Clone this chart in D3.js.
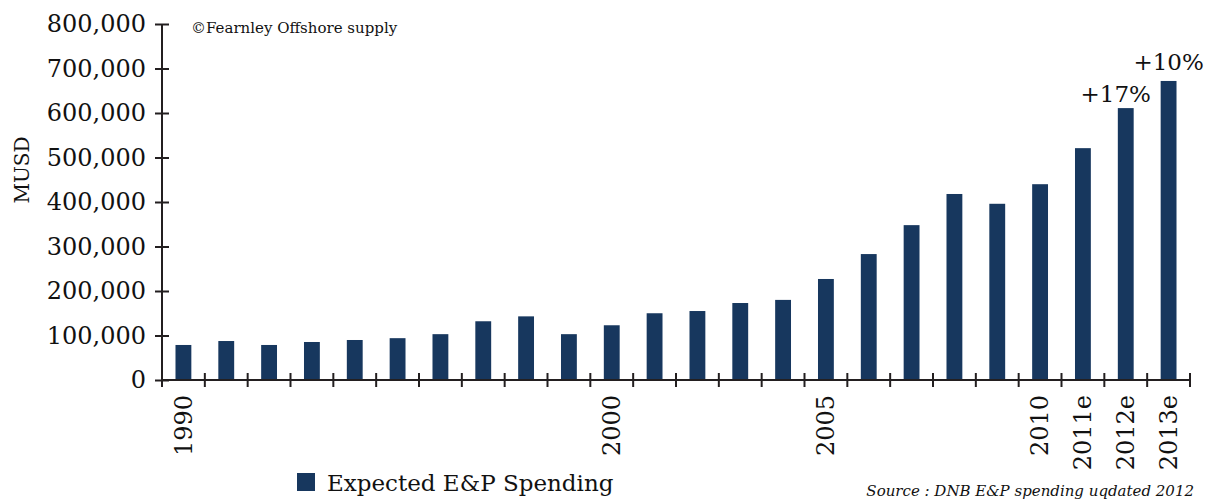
<!DOCTYPE html>
<html>
<head>
<meta charset="utf-8">
<script src="https://cdn.jsdelivr.net/npm/d3@7"></script>
<style>
  body { margin: 0; background: #fff; }
  text { font-family: "DejaVu Serif", serif; fill: #111; }
</style>
</head>
<body>
<div id="chart"></div>
<script>
// years on the x axis (only some get a label)
var years = ["1990", "1991", "1992", "1993", "1994", "1995", "1996", "1997", "1998", "1999",
    "2000", "2001", "2002", "2003", "2004", "2005", "2006", "2007", "2008", "2009",
    "2010", "2011e", "2012e", "2013e"];
var shownYears = ["1990", "2000", "2005", "2010", "2011e", "2012e", "2013e"];

// Expected E&P Spending, MUSD
var spending = [78700, 87600, 78700, 85400, 89900, 94000, 103000, 132000, 143000, 103000,
    123000, 150000, 155000, 173000, 180000, 227000, 283000, 348000, 418000, 396000,
    440000, 521000, 611000, 672000];

var yTicks = [0, 100000, 200000, 300000, 400000, 500000, 600000, 700000, 800000];

var growthNotes = [
    { year: "2012e", text: "+17%", dx: -10, dy: -6 },
    { year: "2013e", text: "+10%", dx: 0, dy: -11 }
];

var data = years.map(function (y, i) { return { year: y, value: spending[i] }; });

var width = 1210, height = 504;
var margin = { top: 24, right: 20, bottom: 124, left: 162 };
var barColor = "#17375e";
var axisColor = "#231f20";

var svg = d3.select("#chart")
    .append("svg")
    .attr("width", width)
    .attr("height", height);

var x = d3.scaleBand()
    .domain(years)
    .range([margin.left, width - margin.right])
    .paddingInner(0.63)
    .paddingOuter(0.315);

var y = d3.scaleLinear()
    .domain([0, 800000])
    .range([height - margin.bottom, margin.top]);

var step = x.step();
var x0 = margin.left;

// bars
svg.selectAll("rect.bar")
    .data(data)
    .enter()
    .append("rect")
    .attr("class", "bar")
    .attr("x", function (d) { return x(d.year); })
    .attr("y", function (d) { return y(d.value); })
    .attr("width", x.bandwidth())
    .attr("height", function (d) { return y(0) - y(d.value); })
    .attr("fill", barColor);

// y axis
var yAxis = svg.append("g")
    .attr("transform", "translate(" + x0 + ",0)")
    .call(d3.axisLeft(y)
        .tickValues(yTicks)
        .tickFormat(d3.format(","))
        .tickSize(7)
        .tickPadding(9));

yAxis.select(".domain").remove();
yAxis.append("line")
    .attr("x1", 0).attr("x2", 0)
    .attr("y1", y(800000)).attr("y2", y(0) + 7)
    .attr("stroke", axisColor)
    .attr("stroke-width", 2);
yAxis.selectAll(".tick line")
    .attr("x1", -7).attr("x2", 7)
    .attr("stroke", axisColor)
    .attr("stroke-width", 2);
yAxis.selectAll(".tick text")
    .style("font-family", "DejaVu Serif")
    .style("font-size", "24px")
    .attr("fill", "#111");

// x axis, ticks sit between the bars
var xg = svg.append("g");
xg.append("line")
    .attr("x1", x0).attr("x2", width - margin.right)
    .attr("y1", y(0)).attr("y2", y(0))
    .attr("stroke", axisColor)
    .attr("stroke-width", 2);

var boundaries = d3.range(years.length + 1).map(function (i) { return x0 + i * step; });
xg.selectAll("line.xt")
    .data(boundaries.slice(1))
    .enter()
    .append("line")
    .attr("class", "xt")
    .attr("x1", function (d) { return d; })
    .attr("x2", function (d) { return d; })
    .attr("y1", y(0) - 7)
    .attr("y2", y(0) + 7)
    .attr("stroke", axisColor)
    .attr("stroke-width", 2);

xg.selectAll("text.xl")
    .data(shownYears)
    .enter()
    .append("text")
    .attr("class", "xl")
    .attr("transform", function (d) {
        return "translate(" + (x(d) + x.bandwidth() / 2) + "," + (y(0) + 15) + ")rotate(-90)";
    })
    .attr("dy", "0.35em")
    .style("text-anchor", "end")
    .style("font-size", "24px")
    .text(function (d) { return d; });

// growth labels above the last bars
svg.selectAll("text.note")
    .data(growthNotes)
    .enter()
    .append("text")
    .attr("class", "note")
    .attr("x", function (d) { return x(d.year) + x.bandwidth() / 2 + d.dx; })
    .attr("y", function (d) { return y(spending[years.indexOf(d.year)]) + d.dy; })
    .style("text-anchor", "middle")
    .style("font-size", "23px")
    .text(function (d) { return d.text; });

// y axis title
svg.append("text")
    .attr("transform", "translate(29,170)rotate(-90)")
    .style("text-anchor", "middle")
    .style("font-size", "20px")
    .text("MUSD");

svg.append("text")
    .attr("x", 191)
    .attr("y", 33)
    .style("font-size", "15px")
    .text("\u00a9Fearnley Offshore supply");

// legend
svg.append("rect")
    .attr("x", 297)
    .attr("y", 473)
    .attr("width", 18)
    .attr("height", 18)
    .attr("fill", barColor);

svg.append("text")
    .attr("x", 327)
    .attr("y", 491)
    .style("font-size", "23px")
    .text("Expected E&P Spending");

svg.append("text")
    .attr("x", 1194)
    .attr("y", 496)
    .style("text-anchor", "end")
    .style("font-style", "italic")
    .style("font-size", "15px")
    .text("Source : DNB E&P spending uqdated 2012");
</script>
</body>
</html>
